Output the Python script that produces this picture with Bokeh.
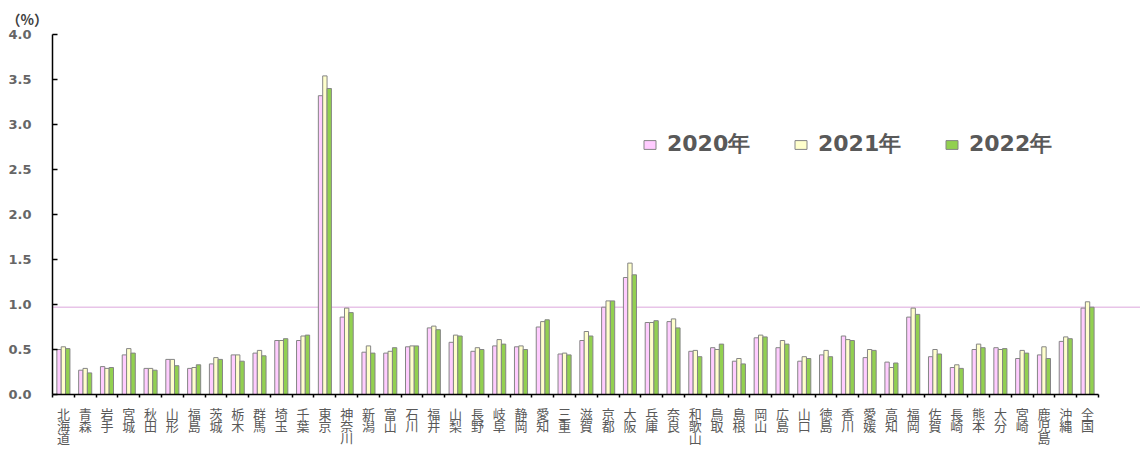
from bokeh.plotting import figure
from bokeh.models import (Range1d, FixedTicker, Span, Legend, LegendItem,
                          ColumnDataSource)
from bokeh.embed import file_html
from bokeh.resources import INLINE

prefectures = ["北海道", "青森", "岩手", "宮城", "秋田", "山形", "福島", "茨城", "栃木", "群馬",
               "埼玉", "千葉", "東京", "神奈川", "新潟", "富山", "石川", "福井", "山梨", "長野",
               "岐阜", "静岡", "愛知", "三重", "滋賀", "京都", "大阪", "兵庫", "奈良", "和歌山",
               "鳥取", "島根", "岡山", "広島", "山口", "徳島", "香川", "愛媛", "高知", "福岡",
               "佐賀", "長崎", "熊本", "大分", "宮崎", "鹿児島", "沖縄", "全国"]

v2020 = [0.50, 0.27, 0.31, 0.44, 0.29, 0.39, 0.29, 0.34, 0.44, 0.46,
         0.60, 0.60, 3.32, 0.86, 0.47, 0.46, 0.53, 0.74, 0.58, 0.48,
         0.54, 0.53, 0.75, 0.45, 0.60, 0.97, 1.30, 0.80, 0.81, 0.48,
         0.52, 0.37, 0.63, 0.52, 0.37, 0.44, 0.65, 0.41, 0.36, 0.86,
         0.42, 0.30, 0.50, 0.52, 0.40, 0.44, 0.59, 0.96]
v2021 = [0.53, 0.29, 0.29, 0.51, 0.29, 0.39, 0.30, 0.41, 0.44, 0.49,
         0.60, 0.65, 3.54, 0.96, 0.54, 0.48, 0.54, 0.76, 0.66, 0.52,
         0.61, 0.54, 0.81, 0.46, 0.70, 1.04, 1.46, 0.80, 0.84, 0.49,
         0.50, 0.40, 0.66, 0.60, 0.42, 0.49, 0.61, 0.50, 0.30, 0.96,
         0.50, 0.33, 0.56, 0.50, 0.49, 0.53, 0.64, 1.03]
v2022 = [0.51, 0.24, 0.30, 0.46, 0.27, 0.32, 0.33, 0.39, 0.37, 0.43,
         0.62, 0.66, 3.40, 0.91, 0.46, 0.52, 0.54, 0.72, 0.65, 0.50,
         0.56, 0.50, 0.83, 0.44, 0.65, 1.04, 1.33, 0.82, 0.74, 0.42,
         0.56, 0.34, 0.64, 0.56, 0.40, 0.42, 0.60, 0.49, 0.35, 0.89,
         0.45, 0.29, 0.52, 0.51, 0.46, 0.40, 0.62, 0.97]

series_names = ["2020年", "2021年", "2022年"]
series_values = [v2020, v2021, v2022]
fill_colors = ["#FFCCFF", "#FFFFCC", "#92D050"]
offsets = [-0.2, 0.0, 0.2]
y_ticks = [0.0, 0.5, 1.0, 1.5, 2.0, 2.5, 3.0, 3.5, 4.0]

n = len(prefectures)
idx = list(range(n))

p = figure(width=1140, height=451, output_backend="svg", toolbar_location=None,
           x_range=Range1d(-0.5, 49.43), y_range=Range1d(0, 4.0),
           min_border_left=52, min_border_right=0, min_border_top=34,
           min_border_bottom=57)
p.outline_line_color = None
p.xgrid.visible = False
p.ygrid.visible = False
p.background_fill_color = "white"
p.border_fill_color = "white"

# reference line (national 2022)
p.add_layout(Span(location=v2022[-1], dimension="width", line_color="#E8C4E8",
                  line_width=1.5, level="underlay"))

renderers = []
for name, vals, col, off in zip(series_names, series_values, fill_colors, offsets):
    src = ColumnDataSource(dict(x=[i + off for i in idx], top=vals))
    r = p.vbar(x="x", top="top", width=0.2, bottom=0, source=src,
               fill_color=col, line_color="#858585", line_width=1)
    renderers.append(r)

# x axis
xa = p.xaxis[0]
xa.ticker = FixedTicker(ticks=idx, minor_ticks=[i - 0.5 for i in range(n + 1)])
xa.major_label_overrides = {i: "\n".join(list(name)) for i, name in enumerate(prefectures)}
xa.bounds = (-0.5, n - 0.5)
xa.axis_line_color = "black"
xa.axis_line_width = 1.5
xa.major_tick_line_color = None
xa.major_tick_out = 4
xa.major_tick_in = 0
xa.minor_tick_line_color = "black"
xa.minor_tick_line_width = 1.5
xa.minor_tick_out = 3
xa.minor_tick_in = 0
xa.major_label_standoff = 5
xa.major_label_text_font = "Noto Sans CJK JP"
xa.major_label_text_font_size = "13px"
xa.major_label_text_color = "#595959"
xa.major_label_text_line_height = 0.64

# y axis
ya = p.yaxis[0]
ya.ticker = FixedTicker(ticks=y_ticks, minor_ticks=[])
ya.major_label_overrides = {t: f"{t:.1f}" for t in y_ticks}
ya.axis_line_color = "black"
ya.axis_line_width = 1.5
ya.major_tick_line_color = "black"
ya.major_tick_line_width = 1.5
ya.major_tick_in = 5
ya.major_tick_out = 0
ya.minor_tick_line_color = None
ya.major_label_standoff = 21
ya.major_label_text_font = "DejaVu Sans"
ya.major_label_text_font_style = "bold"
ya.major_label_text_font_size = "13px"
ya.major_label_text_color = "#666666"

# title (unit)
p.title.text = "（%）"
p.title.align = "left"
p.title.offset = -46
p.title.standoff = 12
p.title.text_font = "Noto Sans CJK JP"
p.title.text_font_size = "14px"
p.title.text_font_style = "bold"
p.title.text_color = "#404040"

# legends, one per series
legend_x = [590, 741, 892]
for name, r, lx in zip(series_names, renderers, legend_x):
    lg = Legend(items=[LegendItem(label=name, renderers=[r])], location=(lx, 235),
                label_text_font="DejaVu Sans", label_text_font_size="22px",
                label_text_font_style="bold", label_text_color="#595959",
                glyph_width=15, glyph_height=11, label_standoff=10,
                padding=0, margin=0, border_line_alpha=0,
                background_fill_alpha=0)
    p.add_layout(lg, "center")

open("out.html", "w").write(file_html(p, INLINE))
